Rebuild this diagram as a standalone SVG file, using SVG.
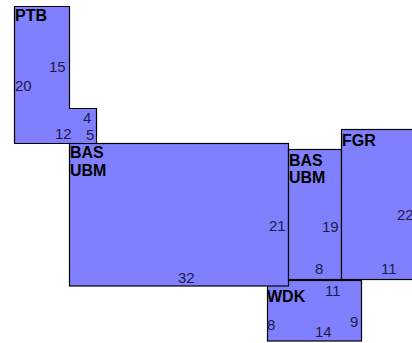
<svg xmlns="http://www.w3.org/2000/svg" width="412" height="343" viewBox="0 0 412 343">
<style>
.area{fill:#8080ff;stroke:#000;stroke-width:1.2}
.name{font-family:"Liberation Sans",Arial,sans-serif;font-weight:bold;font-size:16px;fill:#000}
.num{font-family:"Liberation Sans",Arial,sans-serif;font-size:15px;fill:#1c1c48}
</style>
<rect x="0" y="0" width="412" height="343" fill="#fff"/>
<g id="connectors"></g>
<g id="WDK">
<rect class="area" x="267.5" y="280.5" width="94" height="60.5"/>
<text class="name" x="267" y="302">WDK</text>
<text class="num" x="325" y="296">11</text>
<text class="num" x="267" y="330">8</text>
<text class="num" x="315" y="337">14</text>
<text class="num" x="350" y="327">9</text>
</g>
<g id="BAS_UBM_1">
<rect class="area" x="69.5" y="143.5" width="219" height="142.5"/>
<text class="name" x="70" y="158">BAS</text>
<text class="name" x="70" y="176">UBM</text>
<text class="num" x="269" y="231">21</text>
<text class="num" x="178" y="283">32</text>
</g>
<g id="BAS_UBM_2">
<rect class="area" x="288.5" y="149.5" width="53" height="130"/>
<text class="name" x="289" y="166">BAS</text>
<text class="name" x="289" y="183">UBM</text>
<text class="num" x="322" y="232">19</text>
<text class="num" x="315" y="274">8</text>
</g>
<g id="FGR">
<rect class="area" x="341.5" y="129.5" width="72" height="150"/>
<text class="name" x="342" y="146">FGR</text>
<text class="num" x="397" y="220">22</text>
<text class="num" x="381" y="274">11</text>
</g>
<g id="PTB">
<polygon class="area" points="14.5,6.5 69.5,6.5 69.5,108.5 96.5,108.5 96.5,143.5 14.5,143.5"/>
<text class="name" x="15" y="21">PTB</text>
<text class="num" x="49" y="72">15</text>
<text class="num" x="15" y="91">20</text>
<text class="num" x="83" y="123">4</text>
<text class="num" x="55" y="139">12</text>
<text class="num" x="86" y="140">5</text>
</g>
</svg>
